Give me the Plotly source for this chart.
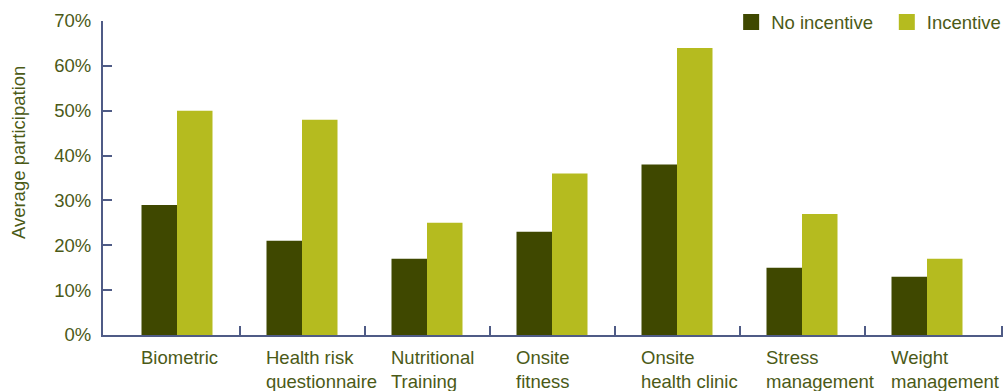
import plotly.graph_objects as go

categories = ["Biometric", "Health risk<br>questionnaire", "Nutritional<br>Training",
              "Onsite<br>fitness", "Onsite<br>health clinic", "Stress<br>management",
              "Weight<br>management"]
no_incentive = [29, 21, 17, 23, 38, 15, 13]
incentive = [50, 48, 25, 36, 64, 27, 17]
y_ticks = [0, 10, 20, 30, 40, 50, 60, 70]

DARK = "#3f4800"
LIGHT = "#b5bb1f"
TEXT = "#4b5a17"
AXIS = "#4f5b86"
FONT = "Liberation Sans, Arial, Helvetica, sans-serif"
FS = 18.5

xs = list(range(len(categories)))

fig = go.Figure()
fig.add_trace(go.Bar(x=xs, y=no_incentive, marker=dict(color=DARK, line=dict(width=0)),
                     name="No incentive", showlegend=False))
fig.add_trace(go.Bar(x=xs, y=incentive, marker=dict(color=LIGHT, line=dict(width=0)),
                     name="Incentive", showlegend=False))
# legend entries
fig.add_trace(go.Scatter(x=[None], y=[None], mode="markers", name="No incentive \u2009",
                         marker=dict(symbol="square", size=17, color=DARK)))
fig.add_trace(go.Scatter(x=[None], y=[None], mode="markers", name="Incentive",
                         marker=dict(symbol="square", size=17, color=LIGHT)))

half = 0.284
for i, c in enumerate(categories):
    fig.add_annotation(x=i - half, xref="x", y=0, yref="paper", yanchor="top",
                       xanchor="left", align="left", yshift=-10, xshift=-3, showarrow=False,
                       text=c, font=dict(family=FONT, size=FS, color=TEXT))

fig.add_annotation(x=-0.107, xref="paper", y=0.58, yref="paper", textangle=-90,
                   showarrow=False, text="Average participation",
                   font=dict(family=FONT, size=FS, color=TEXT))

n = len(categories)
fig.update_layout(
    width=1004, height=391,
    margin=dict(l=103, r=1, t=21, b=56, autoexpand=False),
    plot_bgcolor="white", paper_bgcolor="white",
    barmode="group", bargap=0.432, bargroupgap=0,
    font=dict(family=FONT, size=FS, color=TEXT),
    legend=dict(orientation="h", x=1.0035, xanchor="right", y=1.056, yanchor="top",
                font=dict(family=FONT, size=FS, color=TEXT), bgcolor="rgba(0,0,0,0)",
                itemwidth=30, traceorder="normal"),
    xaxis=dict(range=[-0.592, n - 1 + 0.608], showline=True, linecolor=AXIS, linewidth=2,
               tickmode="array", tickvals=xs, ticktext=[""] * n, ticks="",
               showgrid=False, zeroline=False,
               minor=dict(tickmode="array", tickvals=[i + 0.5 for i in range(n - 1)] + [n - 1 + 0.6],
                          ticks="inside", ticklen=9, tickwidth=2, tickcolor=AXIS, showgrid=False)),
    yaxis=dict(range=[0, 70], tickmode="array", tickvals=y_ticks,
               ticktext=[f"{v}%" for v in y_ticks], showline=True, linecolor=AXIS,
               linewidth=2, ticks="inside", ticklen=9, tickwidth=2, tickcolor=AXIS,
               showgrid=False, zeroline=False, ticklabelstandoff=6,
               tickfont=dict(family=FONT, size=FS, color=TEXT)),
)

fig.write_html("out.html")
